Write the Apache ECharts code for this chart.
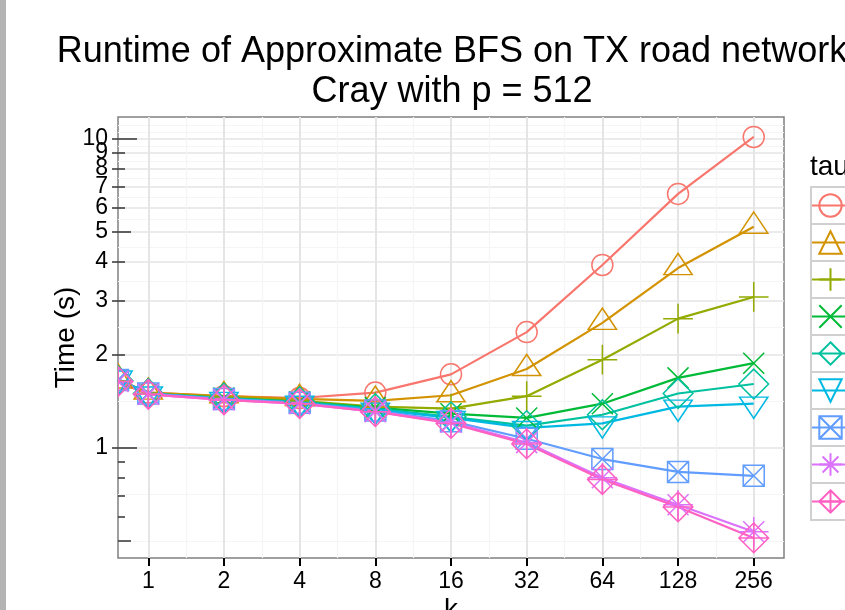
<!DOCTYPE html>
<html><head><meta charset="utf-8">
<script src="https://cdn.jsdelivr.net/npm/echarts@6/dist/echarts.min.js"></script>
<style>html,body{margin:0;padding:0;background:#fff}#c{width:845px;height:610px}</style>
</head><body><div id="c"></div>
<script>
// ---- data ----
const kValues = [0, 1, 2, 4, 8, 16, 32, 64, 128, 256];
const tauNames = ['1', '2', '4', '8', '16', '32', '64', '128', '256'];
const time_tau1 = [1.66, 1.51, 1.47, 1.45, 1.51, 1.73, 2.37, 3.91, 6.64, 10.15];
const time_tau2 = [1.66, 1.51, 1.47, 1.44, 1.42, 1.48, 1.80, 2.54, 3.82, 5.20];
const time_tau3 = [1.65, 1.50, 1.46, 1.42, 1.36, 1.34, 1.47, 1.93, 2.62, 3.08];
const time_tau4 = [1.65, 1.50, 1.45, 1.41, 1.35, 1.29, 1.25, 1.39, 1.685, 1.88];
const time_tau5 = [1.65, 1.50, 1.45, 1.41, 1.34, 1.26, 1.18, 1.28, 1.50, 1.61];
const time_tau6 = [1.67, 1.50, 1.44, 1.40, 1.33, 1.25, 1.16, 1.20, 1.36, 1.39];
const time_tau7 = [1.66, 1.50, 1.44, 1.40, 1.32, 1.22, 1.07, 0.92, 0.836, 0.812];
const time_tau8 = [1.64, 1.49, 1.43, 1.39, 1.31, 1.21, 1.04, 0.80, 0.654, 0.535];
const time_tau9 = [1.64, 1.49, 1.43, 1.39, 1.31, 1.20, 1.03, 0.79, 0.644, 0.511];
const allTimes = [time_tau1, time_tau2, time_tau3, time_tau4, time_tau5, time_tau6, time_tau7, time_tau8, time_tau9];
const xTickLabels = [1, 2, 4, 8, 16, 32, 64, 128, 256];
const xMinorGrid = [1.414, 2.828, 5.657, 11.31, 22.63, 45.25, 90.51, 181.0];
const yTickLabels = [1, 2, 3, 4, 5, 6, 7, 8, 9, 10];
const yLabelsMain = [1, 2, 3, 4, 5, 6, 7, 8, 10];
const yLabelsExtra = [9];
const yMinorGrid = [0.5, 0.707, 1.414, 2.449, 3.464, 4.472, 5.477, 6.481, 7.483, 8.485, 9.487, 10.54, 11.11];
const yLogTicksLong = [1, 10];
const yLogTicksMid = [0.5, 5];
const yLogTicksShort = [0.6, 0.7, 0.8, 0.9, 2, 3, 4, 6, 7, 8, 9];
const titleLines = ['Runtime of Approximate BFS on TX road network', 'Cray with p = 512'];

// ---- styles ----
const COLORS = ['#F8766D', '#D39200', '#93AA00', '#00BA38', '#00C19F', '#00B9E3', '#619CFF', '#DB72FB', '#FF61C3'];
const R = 10.5;
const SHAPES = [
  { d: 'M-1,0A1,1,0,1,1,1,0A1,1,0,1,1,-1,0Z', builtin: 'circle', w: 2 * R, h: 2 * R, dy: 0 },
  { d: 'M0,-1.5551L1.3468,0.7776L-1.3468,0.7776Z', w: 2.6936 * R, h: 2.3327 * R, dy: -0.38875 * R },
  { d: 'M-1,0L1,0M0,-1L0,1', w: 2.828 * R, h: 2.828 * R, dy: 0 },
  { d: 'M-1,-1L1,1M-1,1L1,-1', w: 2 * R, h: 2 * R, dy: 0 },
  { d: 'M0,-1L1,0L0,1L-1,0Z', w: 2.828 * R, h: 2.828 * R, dy: 0 },
  { d: 'M0,1.5551L1.3468,-0.7776L-1.3468,-0.7776Z', w: 2.6936 * R, h: 2.3327 * R, dy: 0.38875 * R },
  { d: 'M-1,-1L1,-1L1,1L-1,1ZM-1,-1L1,1M-1,1L1,-1', w: 2 * R, h: 2 * R, dy: 0 },
  { d: 'M-1.4142,0L1.4142,0M0,-1.4142L0,1.4142M-1,-1L1,1M-1,1L1,-1', w: 2.828 * R, h: 2.828 * R, dy: 0 },
  { d: 'M0,-1L1,0L0,1L-1,0ZM-1,0L1,0M0,-1L0,1', w: 2.828 * R, h: 2.828 * R, dy: 0 }
];
const FONT = 'Liberation Sans';
const X_MIN = Math.pow(2, -0.4), X_MAX = Math.pow(2, 8.4);
const Y_MIN = 0.44, Y_MAX = 11.78;

const lineSeries = tauNames.map((name, i) => ({
  type: 'line', name,
  xAxisIndex: 0, yAxisIndex: 0,
  data: kValues.map((k, j) => k === 0 ? { value: [X_MIN, allTimes[i][j]], symbol: 'none' } : [k, allTimes[i][j]]),
  symbol: SHAPES[i].builtin || ('path://' + SHAPES[i].d),
  symbolSize: [SHAPES[i].w, SHAPES[i].h],
  symbolOffset: [0, SHAPES[i].dy],
  symbolKeepAspect: true,
  showAllSymbol: true,
  lineStyle: { color: COLORS[i], width: 2.2 },
  itemStyle: { color: 'transparent', borderColor: COLORS[i], borderWidth: 1.5 },
  emphasis: { disabled: true },
  z: 2
}));

const edgeSeries = {
  type: 'custom', name: '__edge', coordinateSystem: 'cartesian2d', clip: true,
  xAxisIndex: 0, yAxisIndex: 0, silent: true, z: 3,
  data: tauNames.map((n, i) => [X_MIN, allTimes[i][0], i]),
  encode: { x: 0, y: 1 },
  renderItem: (params, api) => {
    const i = api.value(2);
    const p = api.coord([api.value(0), api.value(1)]);
    const s = SHAPES[i];
    return {
      type: 'path',
      shape: { pathData: s.d, x: p[0] - s.w / 2, y: p[1] - s.h / 2 + s.dy, width: s.w, height: s.h, layout: 'cover' },
      style: { fill: 'none', stroke: COLORS[i], lineWidth: 1.5 }
    };
  }
};

const labelStyle = { margin: 10, fontFamily: FONT, fontSize: 23, color: '#000',
  hideOverlap: false, showMinLabel: true, showMaxLabel: true };

function tickAxis(values, len) {
  return {
    type: 'log', position: 'left', offset: 0, min: Y_MIN, max: Y_MAX,
    axisLine: { show: false }, axisLabel: { show: false }, splitLine: { show: false },
    axisTick: { show: true, inside: true, length: len, customValues: values, lineStyle: { color: '#333', width: 1.5 } }
  };
}

const legendBoxes = tauNames.map((n, i) => ({
  type: 'rect', shape: { x: 811, y: 187 + 37 * i, width: 37, height: 37 },
  style: { fill: '#fff', stroke: '#d0d0d0', lineWidth: 2 }, z: 1
}));

const option = {
  animation: false,
  backgroundColor: '#fff',
  title: [
    { text: 'tau', left: 810, top: 153, padding: 0,
      textStyle: { fontFamily: FONT, fontSize: 28, fontWeight: 'normal', color: '#000' } }
  ],
  grid: { left: 118, right: 61, top: 117, bottom: 52, containLabel: false, outerBoundsMode: 'none',
    show: true, borderColor: '#808080', borderWidth: 1.5, backgroundColor: 'transparent' },
  legend: {
    data: tauNames, orient: 'vertical', left: 811, top: 187, padding: 0,
    itemWidth: 37, itemHeight: 28, itemGap: 0,
    textStyle: { fontFamily: FONT, fontSize: 22, color: '#000', lineHeight: 37 },
    selectedMode: false
  },
  xAxis: [
    { type: 'log', logBase: 2, position: 'bottom', min: X_MIN, max: X_MAX,
      name: 'k', nameLocation: 'middle', nameGap: 38, nameMoveOverlap: false,
      nameTextStyle: { fontFamily: FONT, fontSize: 28, color: '#000' },
      axisLine: { show: false },
      axisTick: { show: true, length: 8, customValues: xTickLabels, lineStyle: { color: '#000', width: 2 } },
      axisLabel: Object.assign({}, labelStyle, { customValues: xTickLabels, margin: 12 }),
      splitLine: { show: true, lineStyle: { color: '#e5e5e5', width: 2 } },
      minorTick: { show: false }, minorSplitLine: { show: false } },
    { type: 'log', logBase: 2, position: 'bottom', min: X_MIN, max: X_MAX,
      axisLine: { show: false }, axisLabel: { show: false },
      axisTick: { show: false, customValues: xMinorGrid },
      splitLine: { show: true, lineStyle: { color: '#f5f5f5', width: 1.2 } } }
  ],
  yAxis: [
    { type: 'log', position: 'left', min: Y_MIN, max: Y_MAX,
      name: 'Time (s)', nameLocation: 'middle', nameGap: 38, nameRotate: 90, nameMoveOverlap: false,
      nameTextStyle: { fontFamily: FONT, fontSize: 28, color: '#000' },
      axisLine: { show: false },
      axisTick: { show: true, length: 6, customValues: yTickLabels, lineStyle: { color: '#333', width: 1.5 } },
      axisLabel: Object.assign({}, labelStyle, { customValues: yLabelsMain }),
      splitLine: { show: true, lineStyle: { color: '#e5e5e5', width: 1.5 } } },
    { type: 'log', position: 'left', min: Y_MIN, max: Y_MAX,
      axisLine: { show: false }, axisLabel: { show: false },
      axisTick: { show: false, customValues: yMinorGrid },
      splitLine: { show: true, lineStyle: { color: '#f5f5f5', width: 1.2 } } },
    tickAxis(yLogTicksLong, 19),
    tickAxis(yLogTicksMid, 13),
    tickAxis(yLogTicksShort, 7),
    { type: 'log', position: 'left', min: Y_MIN, max: Y_MAX,
      axisLine: { show: false }, axisTick: { show: false }, splitLine: { show: false },
      axisLabel: Object.assign({}, labelStyle, { customValues: yLabelsExtra }) }
  ],
  graphic: [
    { type: 'rect', shape: { x: 0, y: 0, width: 6, height: 610 }, style: { fill: '#b4b4b4' }, z: 1 },
    { type: 'text', x: 452, y: 32, z: 5,
      style: { text: titleLines.join('\n'), align: 'center', verticalAlign: 'top',
        font: 'normal 36px "' + FONT + '"', lineHeight: 40, fill: '#000' } },
    ...legendBoxes
  ],
  series: [...lineSeries, edgeSeries]
};

const chart = echarts.init(document.getElementById('c'), null, { renderer: 'canvas' });
chart.setOption(option);
</script>
</body></html>
